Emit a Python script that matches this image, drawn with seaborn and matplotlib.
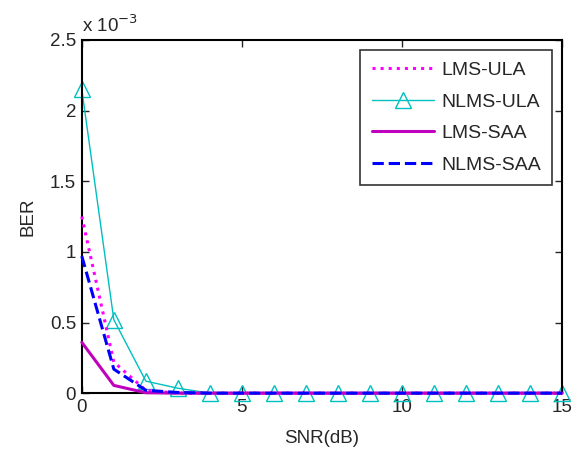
import numpy as np
import pandas as pd
import matplotlib
matplotlib.use("Agg")
import matplotlib.pyplot as plt
import seaborn as sns

snr = list(range(0, 16))
lms_ula = [1.25e-3, 0.22e-3, 0.02e-3] + [0.0] * 13
nlms_ula = [2.15e-3, 0.52e-3, 0.085e-3, 0.035e-3] + [0.0] * 12
lms_saa = [0.36e-3, 0.055e-3, 0.003e-3] + [0.0] * 13
nlms_saa = [0.97e-3, 0.17e-3, 0.02e-3, 0.005e-3] + [0.0] * 12

sns.set_style("white")
plt.rcParams['font.family'] = ['Liberation Sans', 'DejaVu Sans']

FS = 13.5
fig = plt.figure(figsize=(5.76, 4.54), dpi=100)
ax = fig.add_axes([0.142, 0.134, 0.834, 0.778])

sns.lineplot(x=snr, y=lms_ula, ax=ax, color='#ff00ff', linestyle=':', linewidth=2.2,
             label='LMS-ULA', clip_on=False, zorder=3)
sns.lineplot(x=snr, y=nlms_ula, ax=ax, color='#00bfbf', linestyle='-', linewidth=1.0,
             marker='^', markersize=12, markerfacecolor='none', markeredgecolor='#00bfbf',
             markeredgewidth=1.0, label='NLMS-ULA', clip_on=False, zorder=2)
sns.lineplot(x=snr, y=lms_saa, ax=ax, color='#bf00bf', linestyle='-', linewidth=2.2,
             label='LMS-SAA', clip_on=False, zorder=3)
sns.lineplot(x=snr, y=nlms_saa, ax=ax, color='#0000ff', linestyle='--', linewidth=2.2,
             label='NLMS-SAA', clip_on=False, zorder=4)

ax.set_xlim(0, 15)
ax.set_ylim(0, 2.5e-3)
ax.set_xticks([0, 5, 10, 15])
ax.set_yticks([0, 0.5e-3, 1e-3, 1.5e-3, 2e-3, 2.5e-3])
ax.set_yticklabels(['0', '0.5', '1', '1.5', '2', '2.5'])
ax.tick_params(axis='both', labelsize=FS, direction='in', length=5, width=1.0,
               top=True, right=True, bottom=True, left=True, pad=4)
for s in ax.spines.values():
    s.set_color('black')
    s.set_linewidth(1.5)
ax.set_xlabel('SNR(dB)', fontsize=FS, labelpad=10)
ax.set_ylabel('BER', fontsize=FS, labelpad=10)
ax.text(0.0, 1.012, r'x 10$^{-3}$', transform=ax.transAxes, fontsize=FS, ha='left', va='bottom')

leg = ax.legend(loc='upper right', fontsize=14, frameon=True, fancybox=False,
                edgecolor='black', borderaxespad=0.5, handlelength=3.2, labelspacing=0.72,
                handletextpad=0.35, borderpad=0.6)
leg.get_frame().set_linewidth(1.2)

fig.savefig('out.png', dpi=100)
